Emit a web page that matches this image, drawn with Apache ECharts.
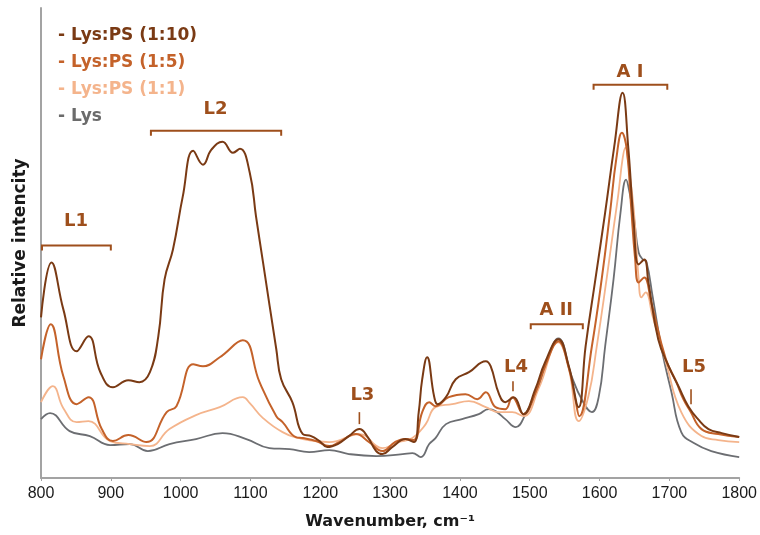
<!DOCTYPE html>
<html>
<head>
<meta charset="utf-8">
<script src="https://cdn.jsdelivr.net/npm/echarts@6/dist/echarts.min.js"></script>
<style>
  html, body { margin: 0; padding: 0; background: #ffffff; }
  #chart { width: 760px; height: 535px; }
</style>
</head>
<body>
<div id="chart"></div>
<script>
// Series names (legend order)
const seriesNames = ['Lys:PS (1:10)', 'Lys:PS (1:5)', 'Lys:PS (1:1)', 'Lys'];

// Lys:PS (1:10) — wavenumber (cm-1) and relative intensity
const wn10 = [800,815,832,851,868,885,903,925,941,956,968,977,989,1003,1018,1032,1044,1060,1075,1085,1099,1108,1118,1137,1144,1160,1175,1187,1199,1210,1225,1241,1256,1268,1280,1289,1303,1322,1334,1341,1346,1353,1363,1368,1380,1394,1413,1437,1444,1456,1465,1477,1491,1508,1522,1541,1556,1570,1580,1594,1608,1621,1633,1641,1649,1656,1664,1670,1684,1699,1713,1727,1741,1756,1775,1800];
const int10 = [161,216,169,127,142,106,91,98,96,106,142,199,229,282,328,314,329,337,326,330,306,262,216,129,99,76,44,42,37,31,34,42,49,41,27,24,31,39,36,66,99,121,82,74,81,99,106,117,112,84,76,81,64,89,116,139,112,71,132,199,266,332,386,332,255,214,219,196,139,112,92,72,59,49,45,41];

// Lys:PS (1:5)
const wn5 = [800,814,832,851,868,887,903,925,951,980,994,1018,1032,1056,1089,1113,1137,1146,1165,1175,1194,1213,1227,1251,1270,1289,1307,1322,1334,1346,1356,1365,1384,1408,1425,1437,1451,1465,1475,1491,1508,1522,1541,1556,1565,1571,1589,1603,1615,1624,1632,1639,1645,1651,1656,1664,1674,1695,1710,1720,1730,1746,1770,1800];
const int5 = [119,154,102,74,81,49,37,43,36,66,72,114,112,121,138,96,62,56,41,40,37,32,36,44,36,27,36,39,38,66,76,72,81,84,79,86,71,69,81,64,85,112,137,110,80,62,132,199,266,320,346,329,274,219,196,201,176,119,96,79,67,49,44,41];

// Lys:PS (1:1)
const wn1 = [800,817,832,851,868,899,927,956,984,1022,1056,1089,1099,1118,1146,1175,1213,1256,1289,1312,1332,1351,1365,1389,1413,1437,1456,1475,1491,1513,1541,1556,1570,1584,1596,1610,1620,1627,1633,1637,1642,1649,1656,1660,1666,1676,1695,1717,1746,1770,1800];
const int1 = [76,92,70,56,57,37,34,32,49,63,71,81,75,60,46,39,36,44,30,36,40,54,71,74,77,71,66,66,62,90,136,110,57,82,132,199,250,285,320,331,310,269,199,181,186,162,116,66,42,38,36];

// Lys
const wnLys = [800,813,841,870,899,927,953,984,1022,1060,1094,1127,1156,1184,1213,1241,1280,1318,1332,1344,1356,1365,1380,1403,1427,1441,1451,1465,1480,1494,1513,1522,1541,1560,1575,1589,1599,1608,1620,1630,1638,1643,1649,1656,1662,1667,1676,1689,1703,1717,1735,1760,1800];
const intLys = [59,65,47,42,33,34,27,34,39,45,39,30,29,26,28,24,22,24,25,21,34,40,54,59,64,69,67,59,51,64,92,112,140,102,78,66,82,132,199,266,299,286,262,226,219,217,182,129,86,46,35,27,21];

// Axis ticks
const xTicks = { min: 800, max: 1800, step: 100 };

// Band brackets: [from, to, bracket level, label level]
const bandLabels = ['L1', 'L2', 'A II', 'A I'];
const bands = [
  [800, 900, 233, 257],
  [956, 1144, 348, 369],
  [1500, 1576, 154, 168],
  [1590, 1697, 394, 407]
];

// Single-position markers: [wavenumber, tick top, tick bottom, label level]
const markLabels = ['L3', 'L4', 'L5'];
const marks = [
  [1256, 66, 54, 83],
  [1476, 97, 87, 111],
  [1731, 89, 74, 111]
];

const colors = ['#7a3a14', '#c4622a', '#f4b48c', '#6c6e72'];
const legendColors = ['#7a3a14', '#c4622a', '#f4b48c', '#6b6b6b'];
const noteColor = '#9e4f1c';
const boldFont = 'DejaVu Sans';

const pairs = (xs, ys) => xs.map((x, i) => [x, ys[i]]);
const lineData = [pairs(wn10, int10), pairs(wn5, int5), pairs(wn1, int1), pairs(wnLys, intLys)];
const widths = [2, 2, 1.8, 1.8];

const chart = echarts.init(document.getElementById('chart'), null, { renderer: 'canvas' });

const lineSeries = [];
// draw the reference first so the mixtures sit on top
for (let k = 3; k >= 0; k--) {
  lineSeries.push({
    name: seriesNames[k],
    type: 'line',
    data: lineData[k],
    smooth: 0.45,
    showSymbol: false,
    symbol: 'none',
    lineStyle: { color: colors[k], width: widths[k] },
    itemStyle: { color: colors[k] },
    z: 10 - k,
    silent: true
  });
}

const bandSeries = {
  type: 'custom',
  coordinateSystem: 'cartesian2d',
  silent: true,
  clip: false,
  z: 20,
  data: bands,
  renderItem(params, api) {
    const a = api.coord([api.value(0), api.value(2)]);
    const b = api.coord([api.value(1), api.value(2)]);
    const t = api.coord([(api.value(0) + api.value(1)) / 2, api.value(3)]);
    return {
      type: 'group',
      children: [
        {
          type: 'polyline',
          shape: { points: [[a[0] + 1, a[1] + 5], [a[0] + 1, a[1]], [b[0], b[1]], [b[0], b[1] + 5]] },
          style: { stroke: noteColor, lineWidth: 2, fill: null }
        },
        {
          type: 'text',
          x: t[0], y: t[1],
          style: {
            text: bandLabels[params.dataIndex],
            fill: noteColor,
            font: 'bold 18px "' + boldFont + '"',
            align: 'center',
            verticalAlign: 'middle'
          }
        }
      ]
    };
  }
};

const markSeries = {
  type: 'custom',
  coordinateSystem: 'cartesian2d',
  silent: true,
  clip: false,
  z: 20,
  data: marks,
  renderItem(params, api) {
    const top = api.coord([api.value(0), api.value(1)]);
    const bot = api.coord([api.value(0), api.value(2)]);
    const t = api.coord([api.value(0), api.value(3)]);
    return {
      type: 'group',
      children: [
        {
          type: 'line',
          shape: { x1: top[0], y1: top[1], x2: bot[0], y2: bot[1] },
          style: { stroke: noteColor, lineWidth: 1.6 }
        },
        {
          type: 'text',
          x: t[0] + 3, y: t[1],
          style: {
            text: markLabels[params.dataIndex],
            fill: noteColor,
            font: 'bold 18px "' + boldFont + '"',
            align: 'center',
            verticalAlign: 'middle'
          }
        }
      ]
    };
  }
};

chart.setOption({
  animation: false,
  backgroundColor: '#ffffff',
  grid: { left: 41, right: 19, top: 8, bottom: 56, containLabel: false },
  legend: {
    orient: 'vertical',
    left: 48,
    top: 21,
    itemGap: 7,
    itemWidth: 0,
    itemHeight: 0,
    icon: 'none',
    selectedMode: false,
    formatter: '- {name}',
    data: seriesNames.map((n, i) => ({
      name: n,
      textStyle: {
        color: legendColors[i],
        fontFamily: boldFont,
        fontWeight: 'bold',
        fontSize: 17,
        lineHeight: 20
      }
    }))
  },
  xAxis: {
    type: 'value',
    min: xTicks.min,
    max: xTicks.max,
    interval: xTicks.step,
    name: 'Wavenumber, cm\u207B\u00B9',
    nameLocation: 'middle',
    nameGap: 36,
    nameTextStyle: { fontFamily: boldFont, fontWeight: 'bold', fontSize: 16, color: '#1a1a1a' },
    axisLine: { show: true, onZero: false, lineStyle: { color: '#a3a3a3', width: 2 } },
    axisTick: { show: true, length: 3, inside: false, lineStyle: { color: '#a3a3a3', width: 1 } },
    axisLabel: {
      fontFamily: '"Liberation Sans Narrow", "Liberation Sans"',
      fontSize: 16,
      color: '#1a1a1a',
      margin: 8,
      formatter: v => String(v)
    },
    splitLine: { show: false }
  },
  yAxis: {
    type: 'value',
    min: 0,
    max: 471,
    name: 'Relative intencity',
    nameLocation: 'middle',
    nameGap: 12,
    nameRotate: 90,
    nameTextStyle: { fontFamily: boldFont, fontWeight: 'bold', fontSize: 17, color: '#1a1a1a' },
    axisLine: { show: true, lineStyle: { color: '#a3a3a3', width: 2 } },
    axisTick: { show: false },
    axisLabel: { show: false },
    splitLine: { show: false }
  },
  series: lineSeries.concat([bandSeries, markSeries])
});
</script>
</body>
</html>
